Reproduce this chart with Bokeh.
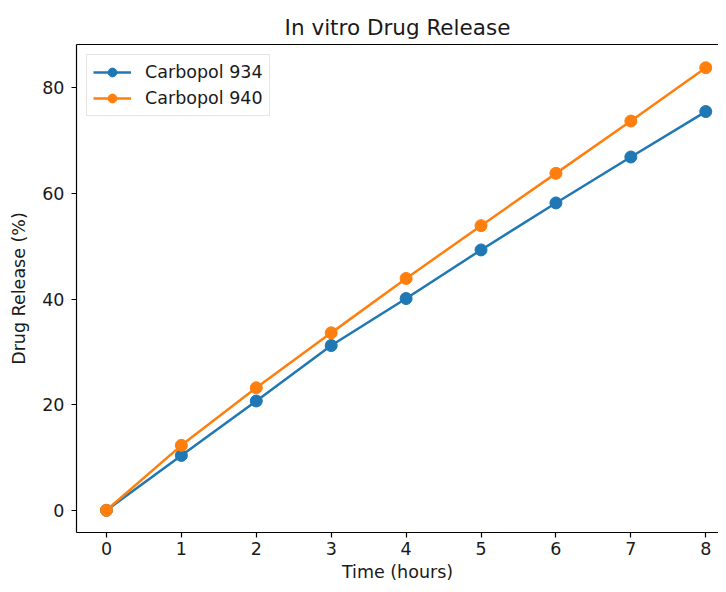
from bokeh.plotting import figure
from bokeh.models import Range1d, LinearAxis, FixedTicker, Legend, LegendItem
from bokeh.embed import file_html
from bokeh.resources import INLINE

time_hours = [0, 1, 2, 3, 4, 5, 6, 7, 8]
carbopol_934 = [0, 10.4, 20.7, 31.2, 40.1, 49.3, 58.2, 66.9, 75.5]
carbopol_940 = [0, 12.3, 23.2, 33.6, 43.9, 53.9, 63.8, 73.7, 83.8]
x_ticks = [0, 1, 2, 3, 4, 5, 6, 7, 8]
y_ticks = [0, 20, 40, 60, 80]

BLUE = "#1f77b4"
ORANGE = "#ff7f0e"
FONT = "DejaVu Sans"
TXT = "#1a1a1a"

p = figure(width=718, height=584, output_backend="svg", toolbar_location=None,
           x_range=Range1d(-0.4, 8.17), y_range=Range1d(-4.2, 88.2),
           min_border_left=76, min_border_right=0, min_border_top=44, min_border_bottom=10)
p.outline_line_color = None
p.xgrid.visible = False
p.ygrid.visible = False

p.title.text = "In vitro Drug Release"
p.title.align = "center"
p.title.text_font = FONT
p.title.text_font_size = "21.5px"
p.title.text_font_style = "normal"
p.title.text_color = TXT
p.title.offset = 4

xax = p.below[0]
yax = p.left[0]
for ax in (xax, yax):
    ax.axis_line_color = "black"
    ax.axis_line_width = 1.2
    ax.major_tick_line_color = "black"
    ax.major_tick_line_width = 1.2
    ax.major_tick_out = 5
    ax.major_tick_in = 0
    ax.minor_tick_line_color = None
    ax.major_label_text_font = FONT
    ax.major_label_text_font_size = "17.5px"
    ax.major_label_text_color = TXT
    ax.axis_label_text_font = FONT
    ax.axis_label_text_font_size = "17.5px"
    ax.axis_label_text_font_style = "normal"
    ax.axis_label_text_color = TXT

xax.ticker = FixedTicker(ticks=x_ticks)
yax.ticker = FixedTicker(ticks=y_ticks)
xax.axis_label = "Time (hours)"
yax.axis_label = "Drug Release (%)"
xax.major_label_standoff = 4
yax.major_label_standoff = 7
xax.axis_label_standoff = 4
yax.axis_label_standoff = 10

top = LinearAxis(ticker=FixedTicker(ticks=[]), major_label_text_font_size="0px",
                 major_tick_line_color=None, minor_tick_line_color=None,
                 axis_line_color="black", axis_line_width=1.2)
p.add_layout(top, "above")

l1 = p.line(time_hours, carbopol_934, line_color=BLUE, line_width=2.5)
c1 = p.scatter(time_hours, carbopol_934, size=12, fill_color=BLUE, line_color=BLUE)
l2 = p.line(time_hours, carbopol_940, line_color=ORANGE, line_width=2.5)
c2 = p.scatter(time_hours, carbopol_940, size=12, fill_color=ORANGE, line_color=ORANGE)

legend = Legend(items=[LegendItem(label="Carbopol 934", renderers=[l1, c1]),
                       LegendItem(label="Carbopol 940", renderers=[l2, c2])],
                location="top_left")
legend.label_text_font = FONT
legend.label_text_font_size = "17.5px"
legend.label_text_color = TXT
legend.border_line_color = "#cccccc"
legend.border_line_width = 1
legend.glyph_width = 38
legend.glyph_height = 22
legend.label_height = 22
legend.label_standoff = 14
legend.spacing = 4
legend.padding = 6
legend.margin = 10
p.add_layout(legend)

open("out.html", "w").write(file_html(p, INLINE))
